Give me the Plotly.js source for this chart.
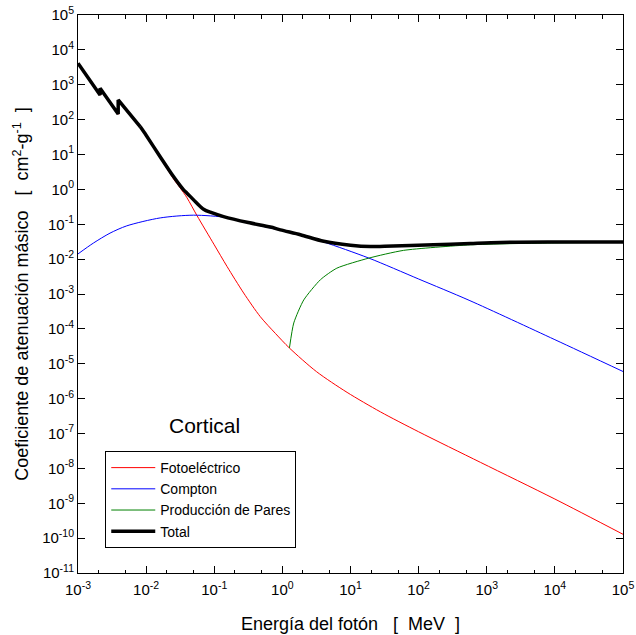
<!DOCTYPE html>
<html>
<head>
<meta charset="utf-8">
<script src="https://cdn.plot.ly/plotly-3.0.1.min.js"></script>
<style>html,body{margin:0;padding:0;background:#fff;}#chart{width:636px;height:635px;}</style>
</head>
<body>
<div id="chart"></div>
<script>
// Energy in MeV, mass attenuation coefficient in cm^2/g (cortical bone)
const totalX = [0.001, 0.00148, 0.00211, 0.00211, 0.00282, 0.00389, 0.00389, 0.005, 0.00817, 0.01, 0.0158, 0.0252, 0.0316, 0.0355, 0.0398, 0.0557, 0.0697, 0.0873, 0.137, 0.316, 0.667, 0.935, 1.84, 4.05, 10, 19.5, 31.6, 166, 575, 1585, 1e4, 1e5];
const totalY = [4130, 1380, 511, 794, 355, 146, 366, 200, 63, 35.5, 9.1, 2.33, 1.28, 0.97, 0.78, 0.40, 0.27, 0.221, 0.166, 0.112, 0.083, 0.069, 0.050, 0.0324, 0.0251, 0.0229, 0.0234, 0.0257, 0.0282, 0.0302, 0.0309, 0.0309];

const photoX = [0.001, 0.00148, 0.00211, 0.00211, 0.00282, 0.00389, 0.00389, 0.005, 0.00817, 0.01, 0.0158, 0.0252, 0.0316, 0.0398, 0.0557, 0.1, 0.154, 0.27, 0.474, 0.794, 1.27, 3.16, 8.91, 27.5, 100, 813, 1e4, 1e5];
const photoY = [4090, 1365, 501, 785, 351, 143, 361, 197, 61.7, 34.3, 8.71, 2.0, 1.10, 0.575, 0.178, 0.0257, 0.00617, 0.00107, 2.24e-4, 7.33e-5, 2.82e-5, 5.96e-6, 1.51e-6, 4.17e-7, 1.12e-7, 1.48e-8, 1.32e-9, 1.29e-10];

const comptonX = [0.001, 0.00168, 0.00295, 0.0052, 0.0161, 0.0497, 0.154, 0.316, 0.935, 1.84, 4.05, 18.6, 100, 550, 1e4, 1e5];
const comptonY = [0.0141, 0.0288, 0.0556, 0.090, 0.152, 0.182, 0.155, 0.108, 0.0676, 0.049, 0.0309, 0.0107, 0.00269, 0.000661, 4.9e-5, 6.0e-6];

const pairX = [1.27, 1.47, 2.06, 3.62, 6.3, 18.6, 60, 575, 1e4, 1e5];
const pairY = [2.85e-5, 1.48e-4, 6.76e-4, 2.57e-3, 5.5e-3, 0.0107, 0.0178, 0.0257, 0.0292, 0.0302];

const seriesNames = ["Fotoeléctrico", "Compton", "Producción de Pares", "Total"];

const xTickVals = [1e-3, 1e-2, 1e-1, 1, 10, 100, 1e3, 1e4, 1e5];
const xTickText = ["10<sup>-3</sup>", "10<sup>-2</sup>", "10<sup>-1</sup>", "10<sup>0</sup>", "10<sup>1</sup>", "10<sup>2</sup>", "10<sup>3</sup>", "10<sup>4</sup>", "10<sup>5</sup>"];
const yExps = [-11, -10, -9, -8, -7, -6, -5, -4, -3, -2, -1, 0, 1, 2, 3, 4, 5];
const yTickVals = yExps.map(e => Math.pow(10, e));
const yTickText = yExps.map(e => "10<sup>" + e + "</sup>");

const FONT = "Liberation Sans, Arial, Helvetica, sans-serif";

// Split a series after its last absorption edge: the edge part is drawn with straight
// segments (vertical jumps), the smooth remainder with a spline.
function splitAfterEdges(xs, ys) {
  let last = 0;
  for (let i = 1; i < xs.length; i++) if (xs[i] === xs[i - 1]) last = i;
  const cut = last + 2;
  return {
    lowX: xs.slice(0, cut + 1), lowY: ys.slice(0, cut + 1),
    highX: xs.slice(cut), highY: ys.slice(cut)
  };
}
const ph = splitAfterEdges(photoX, photoY);
const tot = splitAfterEdges(totalX, totalY);

const traces = [
  {x: ph.lowX, y: ph.lowY, name: seriesNames[0], legendgroup: "p", mode: "lines", line: {color: "#ff0000", width: 1}},
  {x: ph.highX, y: ph.highY, name: seriesNames[0], legendgroup: "p", showlegend: false, mode: "lines", line: {color: "#ff0000", width: 1, shape: "spline", smoothing: 0.8}},
  {x: comptonX, y: comptonY, name: seriesNames[1], mode: "lines", line: {color: "#0000ff", width: 1, shape: "spline", smoothing: 0.8}},
  {x: pairX, y: pairY, name: seriesNames[2], mode: "lines", line: {color: "#008000", width: 1, shape: "spline", smoothing: 0.6}},
  {x: tot.lowX, y: tot.lowY, name: seriesNames[3], legendgroup: "t", mode: "lines", line: {color: "#000000", width: 3.5}},
  {x: tot.highX, y: tot.highY, name: seriesNames[3], legendgroup: "t", showlegend: false, mode: "lines", line: {color: "#000000", width: 3.5, shape: "spline", smoothing: 0.8}}
];

const axisCommon = {
  type: "log",
  showline: true, linecolor: "black", linewidth: 1,
  mirror: "allticks",
  ticks: "inside", ticklen: 7, tickwidth: 1, tickcolor: "black",
  minor: {ticks: "inside", ticklen: 3.5, tickwidth: 1, tickcolor: "black", showgrid: false},
  showgrid: false, zeroline: false,
  tickfont: {family: FONT, size: 15, color: "black"}
};

const layout = {
  width: 636, height: 635,
  margin: {l: 78, r: 13, t: 15, b: 62},
  paper_bgcolor: "white", plot_bgcolor: "white",
  font: {family: FONT, color: "black"},
  showlegend: true,
  xaxis: Object.assign({}, axisCommon, {
    range: [-3, 5], tickmode: "array", tickvals: xTickVals, ticktext: xTickText,
    ticklabelstandoff: 3,
    title: {text: "Energía del fotón \u00a0 [ \u00a0MeV \u00a0]", font: {family: FONT, size: 18, color: "black"}, standoff: 20}
  }),
  yaxis: Object.assign({}, axisCommon, {
    range: [-11, 5], tickmode: "array", tickvals: yTickVals, ticktext: yTickText,
    ticklabelstandoff: 0,
    title: {text: "Coeficiente de atenuación másico \u00a0 [ \u00a0cm<sup>2</sup>-g<sup>-1</sup> \u00a0]", font: {family: FONT, size: 18, color: "black"}, standoff: 8}
  }),
  legend: {
    x: 0.05, y: 0.2186, xanchor: "left", yanchor: "top",
    bgcolor: "white", bordercolor: "black", borderwidth: 1,
    itemwidth: 44, tracegroupgap: 0,
    font: {family: FONT, size: 14, color: "black"}
  },
  annotations: [
    {text: "Cortical", xref: "paper", yref: "paper", x: 0.233, y: 0.265, showarrow: false,
     font: {family: FONT, size: 21, color: "black"}, xanchor: "center", yanchor: "middle"}
  ]
};

Plotly.newPlot("chart", traces, layout, {displayModeBar: false, staticPlot: true});
</script>
</body>
</html>
